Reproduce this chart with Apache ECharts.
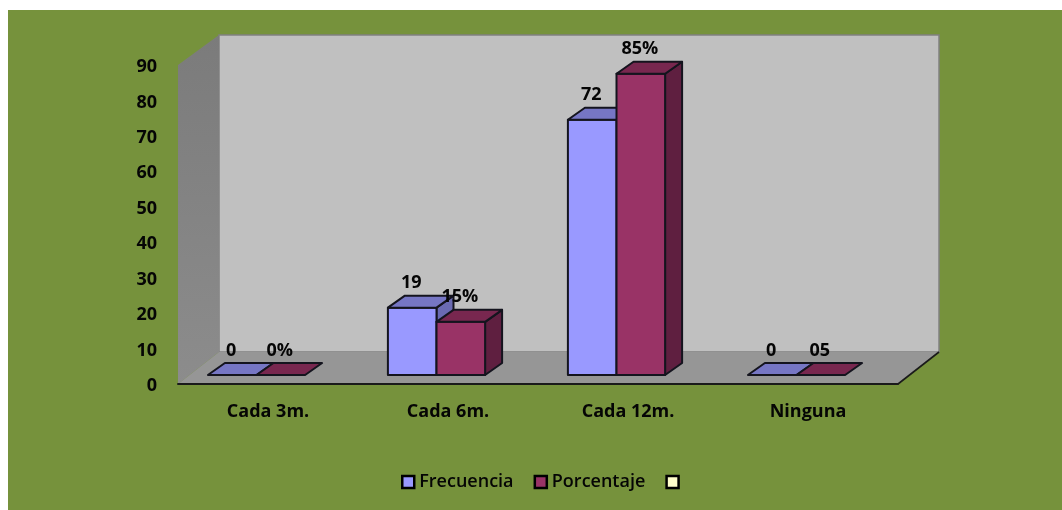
<!DOCTYPE html>
<html>
<head>
<meta charset="utf-8">
<style>html,body{margin:0;padding:0;background:#fff}#c{width:1062px;height:510px}</style>
<script src="https://cdn.jsdelivr.net/npm/echarts@6/dist/echarts.min.js"></script>
</head>
<body>
<div id="c"></div>
<script>
const categories = ['Cada 3m.', 'Cada 6m.', 'Cada 12m.', 'Ninguna'];
const frecuencia = [0, 19, 72, 0];
const porcentaje = [0, 15, 85, 0];
const frecuenciaLabels = ['0', '19', '72', '0'];
const porcentajeLabels = ['0%', '15%', '85%', '05'];
const yTicks = { min: 0, max: 90, interval: 10 };

const FONT = '"Open Sans", "Noto Sans", sans-serif';
const EDGE = '#14141e';
const FRAME = { depthX: 41, depthY: 32 };
const BAR = { depthX: 17, depthY: 12, inX: -11.5, inY: -9, widthRatio: 0.27 };

function renderWalls(params, api) {
  const g = params.coordSys, x0 = g.x, y0 = g.y, x1 = g.x + g.width, y1 = g.y + g.height;
  const dx = FRAME.depthX, dy = FRAME.depthY, topDy = 30;
  return { type: 'group', silent: true, children: [
    { type: 'rect', shape: { x: x0 + dx, y: y0 - topDy, width: x1 - x0, height: y1 - dy - y0 + topDy },
      style: { fill: '#c0c0c0', stroke: '#808080', lineWidth: 1.5 } },
    { type: 'polygon', shape: { points: [[x0, y0], [x0 + dx, y0 - topDy], [x0 + dx, y1 - dy], [x0, y1]] },
      style: { fill: new echarts.graphic.LinearGradient(0, 0, 0, 1, [
        { offset: 0, color: '#7b7b7b' }, { offset: 1, color: '#8c8c8c' }]) } },
    { type: 'polygon', shape: { points: [[x0, y1], [x1, y1], [x1 + dx, y1 - dy], [x0 + dx, y1 - dy]] },
      style: { fill: '#969696' } },
    { type: 'line', shape: { x1: x1, y1: y1, x2: x1 + dx, y2: y1 - dy },
      style: { stroke: '#1a1a1a', lineWidth: 1.6 } }
  ] };
}

function barRenderer(offsetIndex, colors, labels) {
  return function (params, api) {
    const idx = api.value(0), val = api.value(1);
    const base = api.coord([idx, 0]);
    const top = api.coord([idx, val]);
    const w = api.size([1, 0])[0] * BAR.widthRatio;
    const xl = base[0] + BAR.inX + (offsetIndex - 1) * w, xr = xl + w;
    const yb = base[1] + BAR.inY, yt = top[1] + BAR.inY;
    const dx = BAR.depthX, dy = BAR.depthY;
    const edge = { stroke: EDGE, lineWidth: 2, lineJoin: 'round' };
    const children = [];
    if (val > 0) {
      children.push({ type: 'polygon', shape: { points: [[xr, yb], [xr + dx, yb - dy], [xr + dx, yt - dy], [xr, yt]] },
        style: Object.assign({ fill: colors.side }, edge) });
      children.push({ type: 'rect', shape: { x: xl, y: yt, width: w, height: yb - yt },
        style: Object.assign({ fill: colors.front }, edge) });
    }
    children.push({ type: 'polygon', shape: { points: [[xl, yt], [xr, yt], [xr + dx, yt - dy], [xl + dx, yt - dy]] },
      style: Object.assign({ fill: colors.top }, edge) });
    children.push({ type: 'text', z2: 50, style: {
      x: xl + w / 2 - 1, y: yt - 24.5, text: labels[idx], align: 'center', verticalAlign: 'middle',
      font: '700 18px ' + FONT, fill: '#050505' } });
    return { type: 'group', children: children };
  };
}

const azul = { front: '#9999ff', top: '#7676c4', side: '#6a6ab2' };
const vino = { front: '#993366', top: '#78274f', side: '#5f1f40' };

const option = {
  animation: false,
  graphic: [{ type: 'rect', z: -10, silent: true, shape: { x: 8, y: 10, width: 1054, height: 500 }, style: { fill: '#76923c' } }],
  grid: { left: 178, right: 164, top: 65, bottom: 126, containLabel: false },
  legend: {
    left: 396, top: 468, itemWidth: 12, itemHeight: 12, itemGap: 20, selectedMode: false,
    textStyle: { fontFamily: FONT, fontWeight: 600, fontSize: 18, color: '#050505' },
    data: [
      { name: 'Frecuencia', icon: 'rect', itemStyle: { color: '#9999ff', borderColor: '#000', borderWidth: 2.5 } },
      { name: 'Porcentaje', icon: 'rect', itemStyle: { color: '#993366', borderColor: '#000', borderWidth: 2.5 } },
      { name: ' ', icon: 'rect', itemStyle: { color: '#ffffcc', borderColor: '#000', borderWidth: 2.5 } }
    ]
  },
  xAxis: {
    type: 'category', data: categories, z: 10,
    axisTick: { show: false },
    axisLine: { show: true, lineStyle: { color: '#1a1a1a', width: 2 } },
    axisLabel: { margin: 19, fontFamily: FONT, fontWeight: 700, fontSize: 18, color: '#050505' }
  },
  yAxis: {
    type: 'value', min: yTicks.min, max: yTicks.max, interval: yTicks.interval,
    splitLine: { show: false }, axisLine: { show: false }, axisTick: { show: false },
    axisLabel: {
      margin: 21, formatter: '{v|{value}}', color: '#050505',
      rich: { v: { padding: [4, 0, 0, 0], fontFamily: FONT, fontWeight: 700, fontSize: 18, color: '#050505' } }
    }
  },
  series: [
    { type: 'custom', name: 'walls', z: 1, silent: true, data: [[0, 0]], renderItem: renderWalls, clip: false, legendHoverLink: false },
    { type: 'custom', name: 'Frecuencia', z: 2, clip: false, itemStyle: { color: '#9999ff' },
      data: frecuencia.map((v, i) => [i, v]), encode: { x: 0, y: 1 }, renderItem: barRenderer(0, azul, frecuenciaLabels) },
    { type: 'custom', name: 'Porcentaje', z: 3, clip: false, itemStyle: { color: '#993366' },
      data: porcentaje.map((v, i) => [i, v]), encode: { x: 0, y: 1 }, renderItem: barRenderer(1, vino, porcentajeLabels) },
    { type: 'custom', name: ' ', itemStyle: { color: '#ffffcc' }, data: [], renderItem: () => null }
  ]
};
echarts.init(document.getElementById('c'), null, { renderer: 'canvas' }).setOption(option);
</script>
</body>
</html>
